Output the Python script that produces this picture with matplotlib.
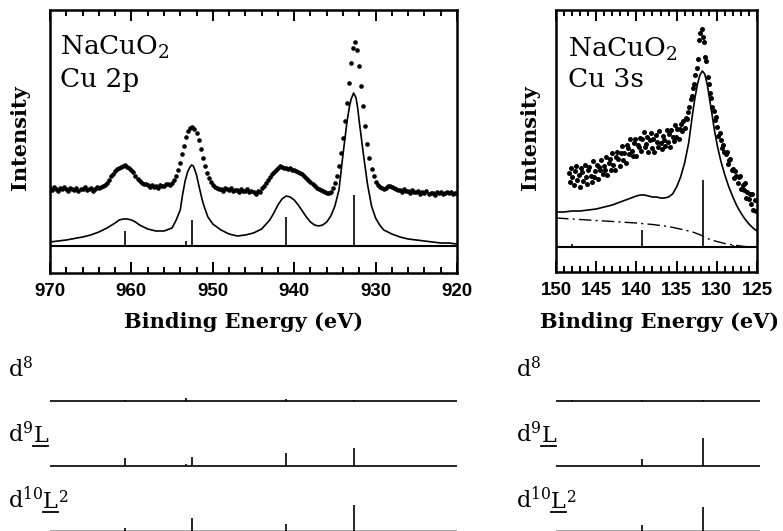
import matplotlib
matplotlib.use('Agg')
import matplotlib.pyplot as plt
from matplotlib.ticker import MultipleLocator
from matplotlib.lines import Line2D
import numpy as np

plt.rcParams['font.family'] = 'DejaVu Serif'
plt.rcParams['mathtext.fontset'] = 'dejavuserif'

# ---------------- Cu 2p (left panel) ----------------
cu2p_dot_e = np.arange(970.0, 919.9, -0.25)
cu2p_dot_i = [
    58, 56, 59, 57,  55, 58, 57, 59,  57, 55, 58, 57,  56, 58, 55, 57,
    57, 59, 56, 57,  58, 55, 57, 59,  58, 59, 60, 61,  63, 66, 70, 72,
    75, 77, 78, 79,  80, 81, 79, 78,  76, 74, 70, 67,  65, 63, 62, 62,
    61, 59, 61, 59,  60, 58, 61, 60,  60, 62, 62, 61,  63, 66, 70, 76,
    83, 92, 100, 109,  115, 118, 119, 117,  113, 106, 97, 88,  80, 73, 68, 64,
    61, 59, 58, 57,  57, 55, 58, 57,  56, 58, 55, 56,  56, 54, 57, 55,
    55, 57, 54, 55,  54, 52, 55, 54,  58, 60, 63, 66,  69, 72, 74, 76,
    78, 80, 79, 78,  78, 77, 78, 76,  76, 75, 74, 73,  72, 70, 68, 66,
    64, 62, 60, 58,  57, 56, 55, 54,  53, 53, 54, 58,  63, 70, 80, 93,
    108, 125, 143, 163,  183, 198, 204, 196,  180, 160, 140, 120,  102, 88, 77, 70,
    64, 61, 59, 58,  57, 58, 60, 60,  59, 58, 57, 56,  56, 54, 57, 55,
    55, 53, 56, 54,  54, 55, 52, 54,  53, 55, 52, 53,  53, 51, 54, 53,
    54, 52, 53, 54,  53, 54, 52, 53,  53,
]

cu2p_fit_e = [970, 968, 966, 965, 964, 963, 962, 961.5, 961, 960.5, 960, 959.5,
              959, 958.5, 958, 957, 956, 955, 954.5, 954, 953.7, 953.4, 953.1,
              952.8, 952.6, 952.4, 952.2, 952, 951.7, 951.3, 951, 950.6, 950,
              949, 948, 947, 946, 945, 944, 943, 942.5, 942, 941.5, 941, 940.5,
              940, 939.5, 939, 938.5, 938, 937.5, 937, 936.5, 936, 935.5, 935,
              934.5, 934, 933.5, 933.2, 933, 932.7, 932.4, 932.2, 932, 931.5,
              931, 930.5, 930, 929.5, 929, 928, 927, 926, 925, 924, 923, 922,
              921, 920]
cu2p_fit_i = [4, 6, 9, 11, 14, 18, 23, 26, 27, 27, 26, 24,
              21, 19, 17, 15, 15, 18, 26, 36, 52, 65, 74,
              79, 81, 80, 76, 71, 60, 46, 38, 29, 22,
              16, 12, 10, 11, 13, 17, 26, 33, 41, 47, 50, 49,
              46, 41, 35, 29, 24, 21, 20, 21, 24, 30, 40,
              56, 92, 125, 140, 147, 153, 148, 138, 124, 92,
              62, 40, 28, 21, 16, 12, 9, 7, 6, 5, 4, 3,
              3, 2]

cu2p_stick_e = [960.8, 953.3, 952.6, 941.0, 932.6]
cu2p_stick_h = [15, 5, 26, 29, 51]
cu2p_d8 = [1, 3, 0, 2, 1]
cu2p_d9L = [8, 2, 9, 13, 18]
cu2p_d10L2 = [3, 0, 13, 7, 26]

# ---------------- Cu 3s (right panel) ----------------
cu3s_dot_e = np.arange(148.4, 124.95, -0.15)
cu3s_dot_i = [
    74, 65, 79, 70, 62, 76, 81, 67, 72, 60,
    79, 75, 66, 82, 70, 63, 77, 80, 71, 65,
    86, 70, 76, 82, 68, 80, 77, 87, 73, 81,
    77, 90, 72, 84, 88, 77, 94, 82, 77, 90,
    95, 88, 81, 94, 101, 87, 94, 84, 102, 99,
    93, 108, 96, 91, 104, 108, 91, 102, 100, 109,
    96, 108, 115, 100, 103, 110, 95, 107, 114, 99,
    108, 95, 112, 105, 100, 116, 104, 98, 111, 107,
    101, 117, 105, 113, 100, 117, 110, 106, 122, 110,
    118, 108, 118, 123, 116, 126, 119, 129, 128, 135,
    140, 148, 151, 159, 163, 172, 179, 188, 207, 214,
    218, 210, 205, 190, 186, 170, 163, 154, 149, 140,
    136, 127, 130, 120, 111, 114, 107, 99, 102, 95,
    93, 95, 83, 87, 88, 77, 78, 69, 76, 71,
    64, 70, 71, 58, 62, 57, 64, 49, 55, 48,
    53, 43, 53, 37, 47, 36, 47,
]

cu3s_fit_e = [150, 149, 148, 147, 146, 145, 144, 143, 142, 141, 140, 139.5,
              139, 138.5, 138, 137.5, 137, 136.5, 136, 135.5, 135, 134.5, 134,
              133.5, 133.2, 133, 132.7, 132.4, 132.1, 131.8, 131.5, 131.2,
              130.9, 130.6, 130.3, 129.9, 129.5, 129, 128.5, 128, 127.5, 127,
              126.5, 126, 125.5, 125]
cu3s_fit_i = [35, 35, 36, 36, 37, 38, 40, 42, 45, 48, 51, 52,
              52, 51, 50, 50, 49, 49, 50, 53, 60, 70, 84,
              104, 122, 134, 150, 163, 172, 176, 173, 163,
              148, 133, 117, 100, 86, 72, 60, 50, 41, 34,
              28, 23, 19, 16]

cu3s_bg_e = [150, 148, 146, 144, 142, 140, 138, 136, 134, 133, 132, 131,
             130, 129, 128, 127, 126]
cu3s_bg_i = [29, 28, 27, 26, 25, 24, 22.5, 20.5, 17, 15, 12, 8,
             5.5, 3.5, 2, 1, 0]

cu3s_stick_e = [148.0, 139.3, 131.7, 128.0]
cu3s_stick_h = [3, 17, 67, 2]
cu3s_d8 = [1, 1, 1, 0]
cu3s_d9L = [0, 7, 28, 0]
cu3s_d10L2 = [0, 6, 24, 0]

# row labels: (prefix, underlined letter, suffix)
row_labels = [(r'$\mathrm{d}^{8}$', '', ''),
              (r'$\mathrm{d}^{9}$', 'L', ''),
              (r'$\mathrm{d}^{10}$', 'L', r'$^{2}$')]

W, H = 783, 531
fig = plt.figure(figsize=(W / 100, H / 100), dpi=100)
renderer = fig.canvas.get_renderer()


def px_axes(x0, x1, ytop, ybot):
    return fig.add_axes([x0 / W, (H - ybot) / H, (x1 - x0) / W, (ybot - ytop) / H])


def style_panel(ax, major, minor):
    for sp in ax.spines.values():
        sp.set_linewidth(1.8)
    ax.xaxis.set_major_locator(MultipleLocator(major))
    ax.xaxis.set_minor_locator(MultipleLocator(minor))
    ax.tick_params(axis='x', which='both', direction='in', top=True, bottom=True,
                   width=1.4, pad=7)
    ax.tick_params(axis='x', which='major', length=8)
    ax.tick_params(axis='x', which='minor', length=4)
    ax.set_yticks([])
    for lab in ax.get_xticklabels():
        lab.set_fontfamily('Liberation Sans')
        lab.set_fontweight('bold')
        lab.set_fontsize(13.5)


# left spectrum panel
ax1 = px_axes(50, 457, 10, 273)
ax1.set_xlim(970, 920)
ax1.set_ylim(-27, 236)
ax1.plot(cu2p_dot_e, cu2p_dot_i, 'o', color='black', markersize=3.3, markeredgewidth=0)
ax1.plot(cu2p_fit_e, cu2p_fit_i, color='black', linewidth=1.2)
ax1.axhline(0, color='black', linewidth=1.5)
ax1.vlines(cu2p_stick_e, 0, cu2p_stick_h, color='black', linewidth=1.2)
style_panel(ax1, 10, 2)
ax1.text(0.025, 0.829, r'NaCuO$_2$', transform=ax1.transAxes, fontsize=19, va='baseline')
ax1.text(0.025, 0.707, 'Cu 2p', transform=ax1.transAxes, fontsize=19, va='baseline')

# right spectrum panel
ax2 = px_axes(556, 757, 10, 272)
ax2.set_xlim(150, 125)
ax2.set_ylim(-25, 237)
ax2.plot(cu3s_dot_e, cu3s_dot_i, 'o', color='black', markersize=3.6, markeredgewidth=0)
ax2.plot(cu3s_fit_e, cu3s_fit_i, color='black', linewidth=1.2)
ax2.plot(cu3s_bg_e, cu3s_bg_i, color='black', linewidth=1.0, linestyle=(0, (9, 3, 1.5, 3)))
ax2.axhline(0, color='black', linewidth=1.5)
ax2.vlines(cu3s_stick_e, 0, cu3s_stick_h, color='black', linewidth=1.2)
style_panel(ax2, 5, 1)
ax2.text(0.06, 0.82, r'NaCuO$_2$', transform=ax2.transAxes, fontsize=19, va='baseline')
ax2.text(0.06, 0.706, 'Cu 3s', transform=ax2.transAxes, fontsize=19, va='baseline')

# axis titles
for xc in (244, 660):
    fig.text(xc / W, (H - 328) / H, 'Binding Energy (eV)', ha='center', va='baseline',
             fontsize=15, fontweight='bold')
for xc in (20, 530):
    fig.text(xc / W, (H - 138) / H, 'Intensity', ha='center', va='center',
             rotation=90, fontsize=15, fontweight='bold')

# configuration stick rows
row_base = [130, 65, 0.5]
label_y = [377, 442, 508]


def row_label(x_px, y_px, prefix, under, suffix):
    fx, fy = x_px / W, (H - y_px) / H
    t = fig.text(fx, fy, prefix, fontsize=16, va='baseline')
    if not under:
        return
    x_end = t.get_window_extent(renderer).x1
    u = fig.text(x_end / W, fy, under, fontsize=16, va='baseline')
    ub = u.get_window_extent(renderer)
    # underline below the letter
    fig.add_artist(Line2D([ub.x0 / W, ub.x1 / W], [(H - y_px - 4) / H] * 2,
                          transform=fig.transFigure, color='black', linewidth=1.3))
    if suffix:
        fig.text(ub.x1 / W, fy, suffix, fontsize=16, va='baseline')


def stick_rows(x0, x1, xlim, energies, rows, label_x):
    ax = px_axes(x0, x1, 335, 531)
    ax.set_xlim(*xlim)
    ax.set_ylim(0, 196)
    ax.axis('off')
    for k, (base, heights) in enumerate(zip(row_base, rows)):
        col = 'black' if k < 2 else '0.6'
        ax.axhline(base, color=col, linewidth=1.2)
        ax.vlines(energies, base, [base + h for h in heights], color='black', linewidth=1.2)
        row_label(label_x, label_y[k], *row_labels[k])


stick_rows(50, 457, (970, 920), cu2p_stick_e, [cu2p_d8, cu2p_d9L, cu2p_d10L2], 8)
stick_rows(556, 760, (150, 124.6), cu3s_stick_e, [cu3s_d8, cu3s_d9L, cu3s_d10L2], 516)

fig.savefig('out.png', dpi=100)
